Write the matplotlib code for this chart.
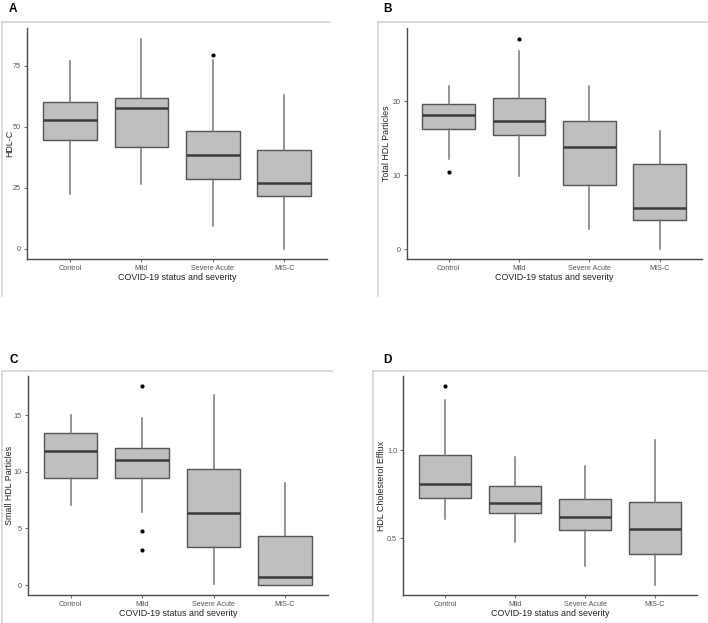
import matplotlib
matplotlib.use("Agg")
import matplotlib.pyplot as plt
from matplotlib.lines import Line2D

categories = ["Control", "Mild", "Severe Acute", "MIS-C"]
x_title = "COVID-19 status and severity"

# box stats per panel: whisker low, q1, median, q3, whisker high
hdlc_low = [22.5, 26.6, 9.4, 0.0]
hdlc_q1 = [44.4, 41.6, 28.7, 21.6]
hdlc_med = [52.6, 57.8, 38.5, 27.0]
hdlc_q3 = [60.1, 61.9, 48.2, 40.4]
hdlc_high = [76.9, 86.1, 77.4, 62.8]
hdlc_out = [[], [], [79.2], []]

total_low = [12.2, 9.9, 2.7, 0.1]
total_q1 = [16.3, 15.5, 8.7, 3.9]
total_med = [18.1, 17.35, 13.8, 5.6]
total_q3 = [19.6, 20.5, 17.4, 11.5]
total_high = [22.1, 26.8, 22.1, 16.0]
total_out = [[10.5], [28.5], [], []]

small_low = [7.1, 6.5, 0.05, 0.0]
small_q1 = [9.42, 9.45, 3.37, 0.03]
small_med = [11.88, 11.03, 6.37, 0.73]
small_q3 = [13.4, 12.12, 10.3, 4.34]
small_high = [15.0, 14.8, 16.84, 9.04]
small_out = [[], [17.6, 4.75, 3.11], [], []]

efflux_low = [0.609, 0.477, 0.345, 0.234]
efflux_q1 = [0.730, 0.643, 0.549, 0.411]
efflux_med = [0.806, 0.702, 0.621, 0.555]
efflux_q3 = [0.974, 0.796, 0.723, 0.704]
efflux_high = [1.287, 0.964, 0.909, 1.055]
efflux_out = [[1.364], [], [], []]

W, H = 708, 623
plt.rcParams['font.family'] = ['Liberation Sans', 'DejaVu Sans']
fig = plt.figure(figsize=(W / 100, H / 100), dpi=100)

def px_axes(left, top, right, bottom):
    return fig.add_axes([left / W, 1 - bottom / H, (right - left) / W, (bottom - top) / H])

def frame(x0, y0, x1, y1):
    # light gray panel border: top and left edges only
    fig.add_artist(Line2D([x0 / W, x1 / W], [1 - y0 / H, 1 - y0 / H], color="#d6d6d6", lw=1.2))
    fig.add_artist(Line2D([x0 / W, x0 / W], [1 - y0 / H, 1 - y1 / H], color="#d6d6d6", lw=1.2))

def draw_panel(ax, low, q1, med, q3, high, out, ylabel, yticks, yticklabels, ylab_off):
    stats = []
    for i in range(len(categories)):
        stats.append(dict(whislo=low[i], q1=q1[i], med=med[i], q3=q3[i],
                          whishi=high[i], fliers=out[i]))
    ax.bxp(stats, positions=range(1, 5), widths=0.75, patch_artist=True,
           showcaps=False,
           boxprops=dict(facecolor="#bfbfbf", edgecolor="#555555", linewidth=1.0),
           medianprops=dict(color="#3a3a3a", linewidth=1.8),
           whiskerprops=dict(color="#777777", linewidth=1.1),
           flierprops=dict(marker="o", markerfacecolor="black", markeredgewidth=0,
                           markersize=3.0))
    allv = low + high + [v for o in out for v in o]
    lo, hi = min(allv), max(allv)
    pad = (hi - lo) * 0.05
    ax.set_ylim(lo - pad, hi + pad)
    ax.set_xlim(0.4, 4.6)
    ax.set_xticks(range(1, 5))
    ax.set_xticklabels(categories)
    ax.set_yticks(yticks)
    ax.set_yticklabels(yticklabels)
    for s in ["top", "right"]:
        ax.spines[s].set_visible(False)
    for s in ["left", "bottom"]:
        ax.spines[s].set_color("#4a4a4a")
        ax.spines[s].set_linewidth(1.0)
    ax.tick_params(axis="both", length=2.5, width=0.8, color="#777777",
                   labelsize=5.2, labelcolor="#555555", pad=1.8)
    ax.set_xlabel(x_title, fontsize=6.4, color="#222222")
    ax.set_ylabel(ylabel, fontsize=6.4, color="#222222")
    bb = ax.get_position()
    h_px = bb.height * H
    w_px = bb.width * W
    ax.xaxis.set_label_coords(0.5, -18.5 / h_px)
    ax.xaxis.label.set_va("center")
    ax.yaxis.set_label_coords(-ylab_off / w_px, 0.5)
    ax.yaxis.label.set_va("center")
    ax.patch.set_visible(False)

frame(2, 22, 330, 296)
frame(378, 22, 708, 296)
frame(2, 371, 332, 623)
frame(373, 371, 708, 623)

axA = px_axes(27, 28, 327, 259)
draw_panel(axA, hdlc_low, hdlc_q1, hdlc_med, hdlc_q3, hdlc_high, hdlc_out,
           "HDL-C", [0, 25, 50, 75], ["0", "25", "50", "75"], 17)
axB = px_axes(406.5, 28, 702, 259)
draw_panel(axB, total_low, total_q1, total_med, total_q3, total_high, total_out,
           "Total HDL Particles", [0, 10, 20], ["0", "10", "20"], 20)
axC = px_axes(27.7, 376, 328, 595)
draw_panel(axC, small_low, small_q1, small_med, small_q3, small_high, small_out,
           "Small HDL Particles", [0, 5, 10, 15], ["0", "5", "10", "15"], 18)
axD = px_axes(403, 376, 697, 595.3)
draw_panel(axD, efflux_low, efflux_q1, efflux_med, efflux_q3, efflux_high, efflux_out,
           "HDL Cholesterol Efflux", [0.5, 1.0], ["0.5", "1.0"], 21.5)

for lab, x, y in [("A", 13, 9), ("B", 387, 9), ("C", 14, 360), ("D", 387, 360)]:
    fig.text(x / W, 1 - y / H, lab, fontsize=8.5, fontweight="bold",
             ha="center", va="center")

fig.savefig("out.png", dpi=100)
